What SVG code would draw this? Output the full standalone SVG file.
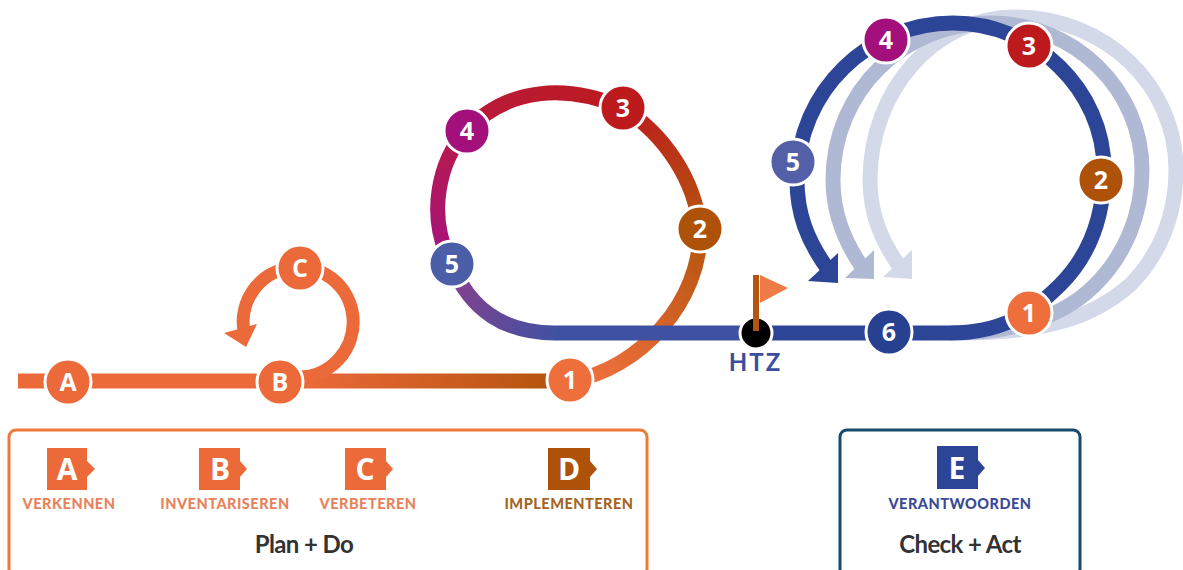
<svg xmlns="http://www.w3.org/2000/svg" width="1183" height="570" viewBox="0 0 1183 570">
<style>
text{font-family:"Lato","Open Sans","Liberation Sans",sans-serif;font-weight:700;text-anchor:middle}
.n circle{stroke:#fff;stroke-width:3}
.n text{fill:#fff;font-family:"Open Sans","Liberation Sans",sans-serif;font-size:25px}
.l{fill:none;stroke-width:15}
.tag{font-size:14.5px;letter-spacing:.5px;font-weight:900}
.big{font-size:24px;fill:#333;letter-spacing:-.6px}
.t text{fill:#fff;font-size:30px;font-family:"Open Sans","Liberation Sans",sans-serif}
</style>
<defs>
<linearGradient id="g0" gradientUnits="userSpaceOnUse" x1="300" y1="0" x2="550" y2="0"><stop offset="0" stop-color="#ec6a3a"/><stop offset="1" stop-color="#b5540e"/></linearGradient>
<linearGradient id="g1" gradientUnits="userSpaceOnUse" x1="590" y1="375" x2="700" y2="229"><stop offset="0" stop-color="#ee6f3c"/><stop offset="1" stop-color="#b5540e"/></linearGradient>
<linearGradient id="g2" gradientUnits="userSpaceOnUse" x1="700" y1="229" x2="623" y2="108"><stop offset="0" stop-color="#b5540e"/><stop offset="1" stop-color="#bd1a1e"/></linearGradient>
<linearGradient id="g3" gradientUnits="userSpaceOnUse" x1="623" y1="108" x2="466" y2="131"><stop offset="0" stop-color="#bd1a1e"/><stop offset="1" stop-color="#b81a3c"/></linearGradient>
<linearGradient id="g4" gradientUnits="userSpaceOnUse" x1="466" y1="131" x2="452" y2="265"><stop offset="0" stop-color="#b81a4a"/><stop offset="1" stop-color="#a5127f"/></linearGradient>
<linearGradient id="g5" gradientUnits="userSpaceOnUse" x1="452" y1="265" x2="560" y2="333"><stop offset="0" stop-color="#8a3f8c"/><stop offset="1" stop-color="#3f52a2"/></linearGradient>
</defs>
<g id="connectors">
<path class="l" stroke="#ec6a3a" d="M18,381H300"/>
<path class="l" stroke="url(#g0)" d="M300,381H570"/>
<path fill="none" stroke="#ec6a3a" stroke-width="13" d="M298,377A55,55 0 1 0 245,336"/>
<polygon fill="#ec6a3a" points="224,333 257,324 246,347"/>
<path class="l" stroke="url(#g1)" d="M570,381C640,370 702,300 700,229"/>
<path class="l" stroke="url(#g2)" d="M700,229C695,180 665,135 623,108"/>
<path class="l" stroke="url(#g3)" d="M623,108C570,85 510,85 466,131"/>
<path class="l" stroke="url(#g4)" d="M466,131C440,160 425,215 452,265"/>
<path class="l" stroke="url(#g5)" d="M452,265C470,310 505,333 555,333"/>
<path class="l" stroke="#3f52a2" d="M555,333H760"/>
<path class="l" stroke="#d3d9e8" d="M960,333C1040,333 1090,320 1130,285C1160,255 1176,215 1176,170C1176,85 1105,17 1015,17C935,17 870,90 870,180C870,212 880,240 902,270"/>
<polygon fill="#d3d9e8" points="883,277 912,250 912,279"/>
<path class="l" stroke="#b0b9d4" d="M950,333C1010,333 1060,320 1095,285C1125,255 1142,215 1142,170C1142,90 1075,23 990,23C905,23 833,90 833,180C833,212 843,240 864,270"/>
<polygon fill="#b0b9d4" points="845,278 874,250 874,279"/>
<path class="l" stroke="#2c4596" d="M760,333H950C1000,333 1030,315 1060,285C1090,255 1104,215 1104,170C1104,90 1035,23 953,23C870,23 797,90 797,180C797,212 806,240 830,272"/>
<polygon fill="#2c4596" points="808,281 838,253 838,283"/>
</g>
<g id="node-A" class="n"><circle cx="68" cy="382" r="23" fill="#ec6a3a"/><text x="68" y="391">A</text></g>
<g id="node-B" class="n"><circle cx="280" cy="382" r="23" fill="#ec6a3a"/><text x="280" y="391">B</text></g>
<g id="node-C" class="n"><circle cx="300" cy="268" r="23" fill="#ec6a3a"/><text x="300" y="277">C</text></g>
<g id="node-L1" class="n"><circle cx="570" cy="380" r="23" fill="#ee6f3c"/><text x="570" y="389">1</text></g>
<g id="node-L2" class="n"><circle cx="700" cy="229" r="23" fill="#ae5209"/><text x="700" y="238">2</text></g>
<g id="node-L3" class="n"><circle cx="623" cy="108" r="23" fill="#bd1a1e"/><text x="623" y="117">3</text></g>
<g id="node-L4" class="n"><circle cx="467" cy="131" r="23" fill="#a3107c"/><text x="467" y="140">4</text></g>
<g id="node-L5" class="n"><circle cx="452" cy="264" r="23" fill="#4b5fa9"/><text x="452" y="273">5</text></g>
<g id="node-HTZ">
<circle cx="756" cy="333" r="16" fill="#000" stroke="#fff" stroke-width="3"/>
<rect x="753" y="275" width="6" height="56" fill="#b5540e"/>
<polygon points="760,275 788,288 760,303" fill="#ee7a45"/>
<text x="755.500" y="371" font-size="24" fill="#3a4f9f" letter-spacing="2" font-weight="900">HTZ</text>
</g>
<g id="node-R6" class="n"><circle cx="889" cy="332" r="23" fill="#27408f"/><text x="889" y="341">6</text></g>
<g id="node-R1" class="n"><circle cx="1029" cy="313" r="23" fill="#ee6f3c"/><text x="1029" y="322">1</text></g>
<g id="node-R2" class="n"><circle cx="1101" cy="180" r="23" fill="#ae5209"/><text x="1101" y="189">2</text></g>
<g id="node-R3" class="n"><circle cx="1029" cy="46" r="23" fill="#bd1a1e"/><text x="1029" y="55">3</text></g>
<g id="node-R4" class="n"><circle cx="886" cy="40" r="23" fill="#a3107c"/><text x="886" y="49">4</text></g>
<g id="node-R5" class="n"><circle cx="793" cy="162" r="23" fill="#5360a8"/><text x="793" y="171">5</text></g>
<g id="legend-plan">
<rect x="9" y="430" width="638" height="146" rx="7" fill="#fff" stroke="#ee7a3a" stroke-width="3"/>
<text class="big" x="304" y="553">Plan + Do</text>
</g>
<g id="legend-check">
<rect x="840" y="430" width="240" height="146" rx="7" fill="#fff" stroke="#17496f" stroke-width="3"/>
<text class="big" x="960" y="553">Check + Act</text>
</g>
<g id="tag-A" class="t"><path fill="#ec6a3a" d="M47,448H87V461L95,469L87,477V490H47Z"/><text x="67" y="480">A</text></g>
<text class="tag" x="69" y="509" fill="#e8825a">VERKENNEN</text>
<g id="tag-B" class="t"><path fill="#ec6a3a" d="M199,448H240V461L247,469L240,477V490H199Z"/><text x="220" y="480">B</text></g>
<text class="tag" x="225" y="509" fill="#e8825a">INVENTARISEREN</text>
<g id="tag-C" class="t"><path fill="#ec6a3a" d="M345,448H386V461L393,469L386,477V490H345Z"/><text x="365" y="480">C</text></g>
<text class="tag" x="368" y="509" fill="#e8825a">VERBETEREN</text>
<g id="tag-D" class="t"><path fill="#ae5209" d="M548,448H590V461L597,469L590,477V490H548Z"/><text x="569" y="480">D</text></g>
<text class="tag" x="569" y="509" fill="#a5641f">IMPLEMENTEREN</text>
<g id="tag-E" class="t"><path fill="#2c4596" d="M937,446H978V460L985,468L978,476V489H937Z"/><text x="957" y="479">E</text></g>
<text class="tag" x="960" y="509" fill="#3a4a96">VERANTWOORDEN</text>
</svg>
